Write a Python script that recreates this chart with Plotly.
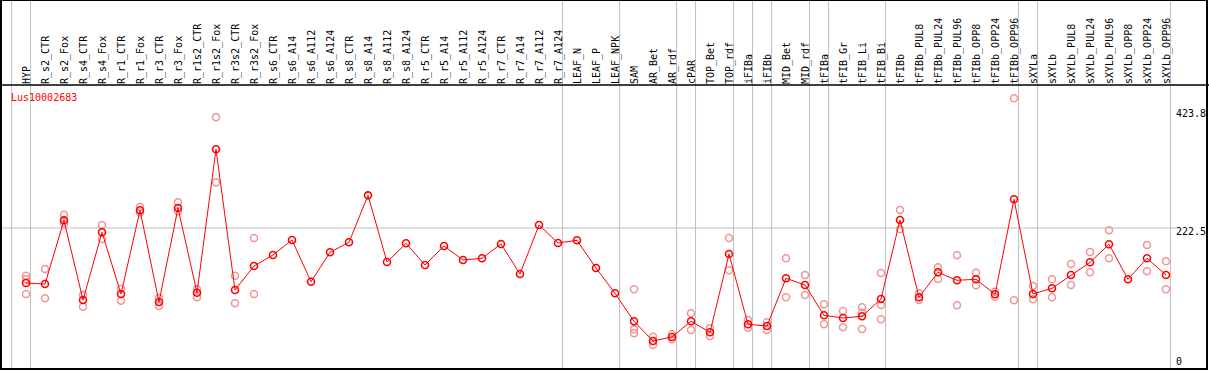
import plotly.graph_objects as go

categories = ["HYP", "R_s2_CTR", "R_s2_Fox", "R_s4_CTR", "R_s4_Fox", "R_r1_CTR", "R_r1_Fox",
              "R_r3_CTR", "R_r3_Fox", "R_r1s2_CTR", "R_r1s2_Fox", "R_r3s2_CTR", "R_r3s2_Fox",
              "R_s6_CTR", "R_s6_A14", "R_s6_A112", "R_s6_A124", "R_s8_CTR", "R_s8_A14",
              "R_s8_A112", "R_s8_A124", "R_r5_CTR", "R_r5_A14", "R_r5_A112", "R_r5_A124",
              "R_r7_CTR", "R_r7_A14", "R_r7_A112", "R_r7_A124", "LEAF_N", "LEAF_P", "LEAF_NPK",
              "SAM", "AR_Bet", "AR_rdf", "cPAR", "TOP_Bet", "TOP_rdf", "iFIBa", "iFIBb",
              "MID_Bet", "MID_rdf", "tFIBa", "tFIB_Gr", "tFIB_Li", "tFIB_Bi", "tFIBb",
              "tFIBb_PUL8", "tFIBb_PUL24", "tFIBb_PUL96", "tFIBb_OPP8", "tFIBb_OPP24",
              "tFIBb_OPP96", "sXYLa", "sXYLb", "sXYLb_PUL8", "sXYLb_PUL24", "sXYLb_PUL96",
              "sXYLb_OPP8", "sXYLb_OPP24", "sXYLb_OPP96"]

means = [128.6, 126.9, 235.6, 99.6, 215.2, 109.8, 252.7, 96.1, 256.7, 112.0, 356.9, 116.6, 157.6,
         176.4, 202.0, 130.8, 181.0, 198.1, 278.3, 164.4, 196.4, 159.3, 191.8, 167.9, 170.8,
         195.2, 144.0, 227.6, 196.9, 201.5, 154.2, 111.0,
         63.2, 29.5, 36.4, 63.2, 44.4, 178.1, 58.1, 55.2, 136.6, 125.2, 73.4, 68.8, 71.7, 101.3,
         236.2, 104.2, 146.9, 133.2, 134.9, 109.3, 271.5, 109.8, 119.5, 142.2, 163.9, 194.7,
         134.9, 170.8, 142.2]

rep1 = [141.0, 152.5, 245.2, 108.1, 227.6, 118.9, 258.9, 103.0, 266.4, 117.8, 411.5, 141.0, 205.4,
        None, None, None, None, None, None, None, None, None, None, None, None,
        None, None, None, None, None, None, None,
        117.8, 36.9, 41.0, 76.8, 51.2, 205.4, 65.4, 61.5, 170.8, 142.2, 92.2, 80.8, 87.1, 145.7,
        253.2, 111.0, 155.4, 175.9, 146.2, 113.7, 444.0, 123.5, 134.9, 161.0, 181.5, 218.6,
        None, 193.5, 165.6]

rep2 = [135.0, 102.5, 230.0, 88.1, 203.7, 98.4, 249.0, 89.3, 251.0, 104.2, 300.5, 93.9, 109.8,
        None, None, None, None, None, None, None, None, None, None, None, None,
        None, None, None, None, None, None, None,
        49.5, 22.7, 32.4, 48.3, 38.1, 150.3, 52.3, 48.3, 104.2, 108.1, 58.1, 52.9, 77.9, 91.0,
        220.3, 99.6, 135.4, 90.5, 124.7, 105.2, 99.0, 100.7, 104.2, 125.2, 146.9, 170.8,
        None, 148.6, 117.8]

rep3 = [109.8, None, None, None, None, None, None, None, None, None, None, None, None,
        None, None, None, None, None, None, None, None, None, None, None, None,
        None, None, None, None, None, None, None,
        42.7, None, None, None, None, None, None, None, None, None, None, None, 50.0, 66.6,
        None, None, None, None, None, None, None, None, None, None, None, None,
        None, None, None]

# last category index of each group (separator drawn just after it)
group_ends = [-1, 0, 28, 31, 34, 35, 37, 38, 39, 41, 42, 45, 52, 53, 60]

gene = "Lus10002683"
tick_vals = [0, 222.5, 423.8]
tick_text = ["0", "222.5", "423.8"]

W, H = 1209, 370
HEAD = 85          # header band height (px)
X0, DX = 26, 19    # first category px, spacing px
PLOT_W = 1175
Y0PX, KPX = 358.3, 0.5856

xs = list(range(len(categories)))
mono = "DejaVu Sans Mono"

fig = go.Figure()

rx, ry = [], []
for r in (rep1, rep2, rep3):
    for i, v in enumerate(r):
        if v is not None:
            rx.append(i)
            ry.append(v)
fig.add_trace(go.Scatter(x=rx, y=ry, mode="markers",
                         marker=dict(symbol="circle-open", size=7, color="#f09595",
                                     line=dict(width=1.5, color="#f09595")),
                         showlegend=False, hoverinfo="skip"))
fig.add_trace(go.Scatter(x=xs, y=means, mode="lines+markers",
                         line=dict(color="#ff0000", width=1),
                         marker=dict(symbol="circle-open", size=7, color="#ff0000",
                                     line=dict(width=1.6, color="#ff0000")),
                         showlegend=False))

shapes = []
for g in group_ends:
    shapes.append(dict(type="line", xref="x", yref="paper", x0=g + 0.24, x1=g + 0.24,
                       y0=0, y1=1, line=dict(color="#c0c0c0", width=1), layer="below"))
shapes.append(dict(type="line", xref="x domain", yref="y", x0=0, x1=1.0015,
                   y0=tick_vals[1], y1=tick_vals[1], line=dict(color="#c0c0c0", width=1), layer="below"))
shapes.append(dict(type="line", xref="paper", yref="paper", x0=0, x1=1,
                   y0=1 - HEAD / H, y1=1 - HEAD / H, line=dict(color="black", width=1.5)))
shapes.append(dict(type="rect", xref="paper", yref="paper", x0=1 / W, x1=1 - 2 / W,
                   y0=1 / H, y1=1, line=dict(color="black", width=2)))

xr0 = (0 - X0) / DX
xr1 = (PLOT_W - X0) / DX
yr0 = (Y0PX - H) / KPX
yr1 = (Y0PX - HEAD) / KPX

fig.update_layout(
    width=W, height=H, autosize=False,
    margin=dict(l=0, r=0, t=0, b=0, pad=0),
    paper_bgcolor="white", plot_bgcolor="white",
    font=dict(family=mono, size=10, color="black"),
    shapes=shapes,
    xaxis=dict(domain=[0, PLOT_W / W], range=[xr0, xr1], side="top",
               tickmode="array", tickvals=xs, ticktext=categories, tickangle=-90,
               tickfont=dict(family=mono, size=10, color="black"),
               ticklabelshift=1,
               showgrid=False, zeroline=False, showline=False, ticks="",
               automargin=False, fixedrange=True),
    yaxis=dict(domain=[0, 1 - HEAD / H], range=[yr0, yr1], side="right",
               tickmode="array", tickvals=tick_vals, ticktext=tick_text,
               tickfont=dict(family=mono, size=10, color="black"),
               ticklabelshift=3,
               showgrid=False, zeroline=False, showline=False, ticks="",
               automargin=False, fixedrange=True),
    annotations=[dict(text=gene, xref="paper", yref="paper", x=9 / W, y=1 - 97.5 / H,
                      xanchor="left", yanchor="middle", showarrow=False,
                      font=dict(family=mono, size=10, color="#ff0000"))],
)

fig.write_html("out.html", config={"displayModeBar": False},
               post_script="document.body.style.margin='0';document.body.style.padding='0';")
